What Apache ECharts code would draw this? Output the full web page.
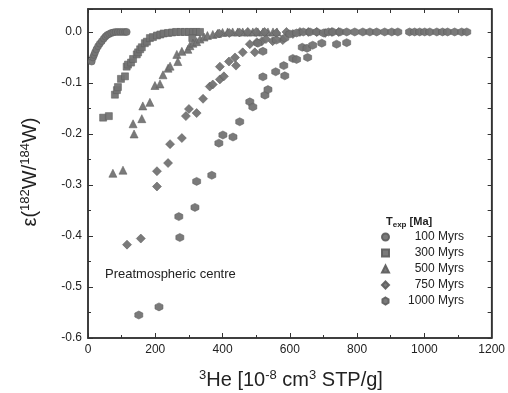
<!DOCTYPE html>
<html><head><meta charset="utf-8">
<script src="https://cdn.jsdelivr.net/npm/echarts@6/dist/echarts.min.js"></script>
<style>html,body{margin:0;padding:0;background:#fff}#c{width:508px;height:393px}</style>
</head><body><div id="c"></div>
<script>
var seriesNames = ['100 Myrs', '300 Myrs', '500 Myrs', '750 Myrs', '1000 Myrs'];
var xTicks = [0, 200, 400, 600, 800, 1000, 1200];
var yTicks = [-0.6, -0.5, -0.4, -0.3, -0.2, -0.1, 0.0];

var s100 = [[11,-0.058],[15,-0.05],[18,-0.045],[21,-0.04],[25,-0.034],[30,-0.028],[35,-0.023],[41,-0.018],[47,-0.013],[52,-0.009],[57,-0.006],[63,-0.004],[69,-0.002],[75,-0.001],[82,0],[89,0],[96,0],[103,0],[110,0],[115,0]];
var s300 = [[45,-0.168],[62,-0.165],[80,-0.123],[86,-0.114],[89,-0.108],[98,-0.092],[110,-0.087],[115,-0.068],[119,-0.064],[128,-0.06],[134,-0.053],[145,-0.044],[149,-0.04],[155,-0.034],[160,-0.03],[169,-0.022],[175,-0.019],[184,-0.012],[193,-0.01],[205,-0.007],[215,-0.005],[225,-0.003],[238,-0.002],[250,-0.001],[262,0],[275,0],[288,0],[300,0],[312,0],[322,0],[333,0],[310,-0.012]];
var s500 = [[74,-0.277],[104,-0.271],[137,-0.2],[134,-0.18],[160,-0.17],[163,-0.145],[184,-0.138],[199,-0.105],[214,-0.102],[223,-0.084],[238,-0.071],[244,-0.067],[264,-0.044],[267,-0.058],[279,-0.038],[297,-0.034],[303,-0.027],[312,-0.022],[323,-0.019],[333,-0.014],[345,-0.01],[355,-0.007],[371,-0.005],[385,-0.003],[400,-0.001],[415,0],[430,0],[445,0],[460,0],[475,0],[490,0],[505,0],[520,0],[535,0],[550,0],[562,0]];
var s750 = [[116,-0.417],[157,-0.405],[205,-0.303],[205,-0.273],[238,-0.257],[244,-0.22],[279,-0.208],[291,-0.165],[300,-0.151],[323,-0.159],[342,-0.131],[362,-0.107],[371,-0.103],[392,-0.093],[404,-0.087],[392,-0.068],[419,-0.058],[437,-0.05],[440,-0.066],[460,-0.04],[481,-0.024],[496,-0.04],[502,-0.02],[517,-0.018],[529,-0.014],[549,-0.018],[579,-0.016],[609,-0.004],[390,-0.003],[420,-0.002],[450,-0.001],[475,0],[500,0],[525,0],[560,-0.002],[590,0],[630,0],[655,0],[680,0],[705,-0.002],[725,0],[745,0]];
var s1000 = [[151,-0.555],[211,-0.539],[273,-0.403],[270,-0.362],[318,-0.344],[323,-0.293],[368,-0.281],[389,-0.218],[401,-0.202],[431,-0.206],[451,-0.176],[481,-0.137],[490,-0.147],[526,-0.124],[535,-0.113],[520,-0.088],[558,-0.078],[582,-0.066],[585,-0.086],[609,-0.052],[620,-0.054],[653,-0.05],[637,-0.03],[651,-0.032],[668,-0.026],[695,-0.022],[739,-0.024],[769,-0.021],[505,-0.022],[520,-0.038],[560,-0.016],[585,-0.012],[600,-0.004],[620,-0.002],[640,0],[660,0],[680,0],[700,-0.002],[715,0],[728,0],[749,0],[769,0],[793,0],[817,0],[838,0],[858,0],[882,0],[903,0],[921,0],[956,0],[971,0],[986,0],[1001,0],[1016,0],[1037,0],[1054,0],[1069,0],[1090,0],[1111,0],[1126,0]];

var hexagon = 'path://M0,-10 L8.66,-5 L8.66,5 L0,10 L-8.66,5 L-8.66,-5 Z';
var symbols = ['circle', 'rect', 'triangle', 'diamond', hexagon];
var sizes = [7, 7, 8, 9, 8];
var datasets = [s100, s300, s500, s750, s1000];
var col = '#737373';
var axisCol = '#333';
var font = 'Liberation Sans, Arial, sans-serif';

var chart = echarts.init(document.getElementById('c'), null, {renderer: 'canvas'});
var series = datasets.map(function (d, i) {
  return {
    name: seriesNames[i], type: 'scatter', xAxisIndex: 0, yAxisIndex: 0,
    data: d, symbol: symbols[i], symbolSize: sizes[i],
    itemStyle: {color: col, borderColor: '#606060', borderWidth: 0.6, opacity: 0.95}
  };
});

chart.setOption({
  animation: false,
  backgroundColor: '#fff',
  textStyle: {fontFamily: font},
  grid: {left: 88, right: 16, top: 9, bottom: 55, show: true, borderColor: axisCol, borderWidth: 1.5, backgroundColor: 'transparent'},
  xAxis: [{
    type: 'value', position: 'bottom', min: xTicks[0], max: xTicks[xTicks.length - 1], interval: 200,
    axisLine: {onZero: false, lineStyle: {color: axisCol, width: 1.5}},
    axisTick: {inside: true, length: 5, lineStyle: {color: axisCol}},
    minorTick: {show: true, splitNumber: 2, length: 3, lineStyle: {color: axisCol}},
    axisLabel: {color: '#222', fontSize: 12, margin: 6, fontFamily: font, formatter: function (v) { return String(v); }},
    splitLine: {show: false}
  }, {
    type: 'value', position: 'top', min: 0, max: 1200, interval: 100,
    axisLine: {show: true, onZero: false, lineStyle: {color: axisCol, width: 1.5}},
    axisTick: {show: true, inside: true, length: 4, lineStyle: {color: axisCol}},
    axisLabel: {show: false}, splitLine: {show: false}
  }],
  yAxis: [{
    type: 'value', position: 'left', min: -0.6, max: 0.045, interval: 0.1,
    axisLine: {onZero: false, lineStyle: {color: axisCol, width: 1.5}},
    axisTick: {inside: true, length: 5, lineStyle: {color: axisCol}},
    minorTick: {show: true, splitNumber: 2, length: 3, lineStyle: {color: axisCol}},
    axisLabel: {color: '#222', fontSize: 12, margin: 6, fontFamily: font, showMaxLabel: false,
      formatter: function (v) { if (v > 0.01) return ''; if (Math.abs(v) < 1e-9) return '0.0'; return v.toFixed(1); }},
    splitLine: {show: false}
  }, {
    type: 'value', position: 'right', min: -0.6, max: 0.045, interval: 0.05,
    axisLine: {show: true, onZero: false, lineStyle: {color: axisCol, width: 1.5}},
    axisTick: {show: true, inside: true, length: 4, lineStyle: {color: axisCol}},
    axisLabel: {show: false}, splitLine: {show: false}
  }],
  legend: {
    orient: 'vertical', left: 381, top: 231, itemWidth: 7, itemHeight: 7, itemGap: 4, padding: 0,
    data: seriesNames.map(function (n, i) { return {name: n, icon: symbols[i], itemStyle: {color: col}}; }),
    formatter: function (n) { return '{a|' + n + '}'; },
    textStyle: {color: '#222', fontFamily: font, rich: {a: {width: 70, align: 'right', fontSize: 12, height: 12, fontFamily: font, color: '#222'}}},
    selectedMode: false
  },
  graphic: [
    {type: 'text', left: 386, top: 216, style: {text: '{b|T}{s|exp}{b| [Ma]}', rich: {
      b: {fontSize: 11, fontWeight: 'bold', fontFamily: font, fill: '#222'},
      s: {fontSize: 8, fontWeight: 'bold', fontFamily: font, fill: '#222', verticalAlign: 'bottom', padding: [6, 0, 0, 0]}
    }}},
    {type: 'text', left: 105, top: 268, style: {text: 'Preatmospheric centre', font: '13px ' + font, fill: '#222'}},
    {type: 'text', x: 30, y: 172, rotation: Math.PI / 2, style: {
      text: '{m|ε(}{s|182}{m|W/}{s|184}{m|W)}', align: 'center', verticalAlign: 'middle',
      rich: {m: {fontSize: 20, fontFamily: font, fill: '#222'}, s: {fontSize: 13, fontFamily: font, fill: '#222', padding: [0, 0, 9, 0]}}
    }},
    {type: 'text', x: 291, y: 380, style: {
      text: '{s|3}{m|He [10}{s|-8}{m| cm}{s|3}{m| STP/g]}', align: 'center', verticalAlign: 'middle',
      rich: {m: {fontSize: 20, fontFamily: font, fill: '#222'}, s: {fontSize: 13, fontFamily: font, fill: '#222', padding: [0, 0, 9, 0]}}
    }}
  ],
  series: series
});
</script></body></html>
